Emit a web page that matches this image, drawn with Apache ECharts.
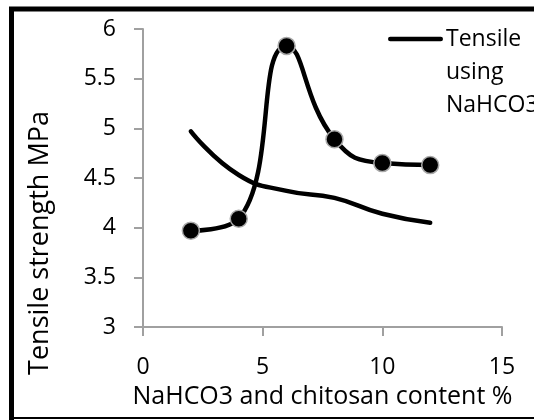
<!DOCTYPE html>
<html>
<head>
<meta charset="utf-8">
<script src="https://cdn.jsdelivr.net/npm/echarts@6/dist/echarts.min.js"></script>
<style>
html,body{margin:0;padding:0;background:#fff;}
#c{width:534px;height:420px;}
</style>
</head>
<body>
<div id="c"></div>
<script>
const xValues = [2, 4, 6, 8, 10, 12];
const chitosanValues = [3.97, 4.09, 5.83, 4.89, 4.65, 4.63];
const nahco3Values = [4.97, 4.53, 4.37, 4.30, 4.14, 4.05];
const legendName = 'Tensile using NaHCO3';
const otherName = 'Tensile using chitosan';
const xTitle = 'NaHCO3 and chitosan content %';
const yTitle = 'Tensile strength MPa';

const FONT = 'Open Sans';
const chart = echarts.init(document.getElementById('c'), null, {renderer: 'canvas'});
const pairs = (ys) => xValues.map((x, i) => [x, ys[i]]);

chart.setOption({
  animation: false,
  backgroundColor: '#fff',
  textStyle: {fontFamily: FONT},
  grid: {left: 143, right: 32, top: 29, bottom: 93, containLabel: false},
  legend: {
    data: [{name: legendName, icon: 'path://M2.25,0 L52.75,0 A2.25,2.25 0 0 1 52.75,4.5 L2.25,4.5 A2.25,2.25 0 0 1 2.25,0 Z'}],
    left: 388,
    top: -43.5,
    padding: 0,
    itemWidth: 55,
    itemHeight: 4.5,
    itemGap: 0,
    formatter: () => '\n\nTensile\nusing\nNaHCO3',
    textStyle: {fontFamily: FONT, fontSize: 23, color: '#000', lineHeight: 33, padding: [0, 0, 0, -2]}
  },
  xAxis: {
    type: 'value', min: 0, max: 15, interval: 5,
    name: xTitle, nameLocation: 'middle', nameGap: 54,
    nameTextStyle: {fontFamily: FONT, fontSize: 25, color: '#000'},
    axisLine: {lineStyle: {color: '#a0a0a0', width: 2}},
    axisTick: {show: true, length: 9, lineStyle: {color: '#a0a0a0', width: 2}},
    axisLabel: {fontFamily: FONT, fontSize: 23, color: '#000', margin: 29},
    splitLine: {show: false}
  },
  yAxis: {
    type: 'value', min: 3, max: 6, interval: 0.5,
    name: yTitle, nameLocation: 'middle', nameGap: 89, nameRotate: 90,
    nameTextStyle: {fontFamily: FONT, fontSize: 27, color: '#000', padding: [0, 130, 0, 0]},
    axisLine: {show: true, lineStyle: {color: '#a0a0a0', width: 2}},
    axisTick: {show: true, length: 9, lineStyle: {color: '#a0a0a0', width: 2}},
    axisLabel: {fontFamily: FONT, fontSize: 23, color: '#000', margin: 27},
    splitLine: {show: false}
  },
  series: [
    {
      name: legendName, type: 'line', data: pairs(nahco3Values),
      smooth: 0.5, symbol: 'none', showSymbol: false,
      lineStyle: {color: '#000', width: 4.5, cap: 'round'},
      itemStyle: {color: '#000'}
    },
    {
      name: otherName, type: 'line', data: pairs(chitosanValues),
      smooth: 0.5, symbol: 'circle', symbolSize: 17,
      lineStyle: {color: '#000', width: 4.5, cap: 'round'},
      itemStyle: {color: '#000', borderColor: '#a8a8a8', borderWidth: 1.5}
    }
  ],
  graphic: [
    {type: 'polyline', shape: {points: [[11.5, 420], [11.5, 9], [534, 9]]}, style: {stroke: '#000', lineWidth: 5, fill: null}, z: 100},
    {type: 'line', shape: {x1: 9, y1: 418, x2: 534, y2: 418}, style: {stroke: '#000', lineWidth: 2}, z: 100}
  ]
});
</script>
</body>
</html>
